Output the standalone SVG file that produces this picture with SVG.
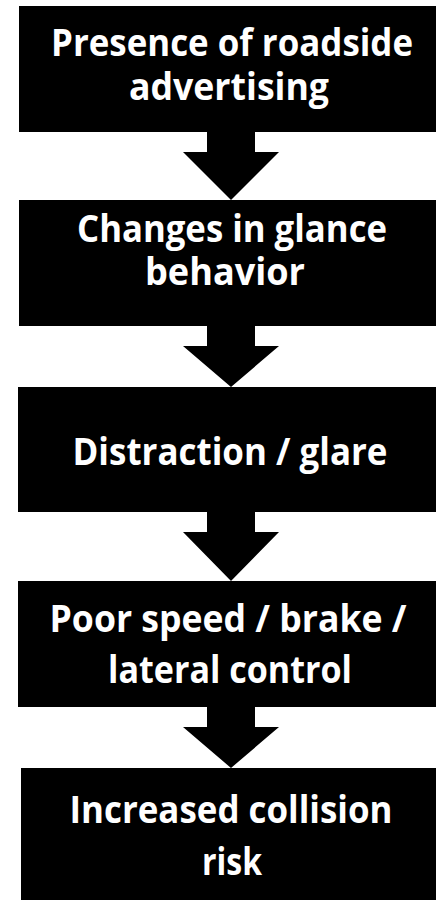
<svg xmlns="http://www.w3.org/2000/svg" width="436" height="900" viewBox="0 0 436 900">
  <style>
    .box { fill: #000000; }
    .lbl { fill: #ffffff; font-family: "Open Sans", "Noto Sans", "Liberation Sans", sans-serif; font-weight: 700; font-size: 38px; text-anchor: middle; }
    .arrow { fill: #000000; }
  </style>
  <rect x="0" y="0" width="436" height="900" fill="#ffffff"/>

  <!-- block arrows between steps -->
  <g id="connectors">
    <polygon class="arrow" points="207,131 255,131 255,152 279,152 231,200 183,152 207,152"/>
    <polygon class="arrow" points="207,325 255,325 255,346 279,346 231,387 183,346 207,346"/>
    <polygon class="arrow" points="207,511 255,511 255,532 279,532 231,581 183,532 207,532"/>
    <polygon class="arrow" points="207,706 255,706 255,727 279,727 231,768 183,727 207,727"/>
  </g>

  <g id="step1">
    <rect class="box" x="19" y="6" width="430" height="126"/>
    <text class="lbl" x="232" y="56" textLength="362" lengthAdjust="spacingAndGlyphs">Presence of roadside</text>
    <text class="lbl" x="229" y="100" textLength="200" lengthAdjust="spacingAndGlyphs">advertising</text>
  </g>

  <g id="step2">
    <rect class="box" x="19" y="200" width="430" height="126"/>
    <text class="lbl" x="232" y="242" textLength="310" lengthAdjust="spacingAndGlyphs">Changes in glance</text>
    <text class="lbl" x="225" y="285" textLength="160" lengthAdjust="spacingAndGlyphs">behavior</text>
  </g>

  <g id="step3">
    <rect class="box" x="18" y="387" width="430" height="125"/>
    <text class="lbl" x="230" y="465" textLength="315" lengthAdjust="spacingAndGlyphs">Distraction / glare</text>
  </g>

  <g id="step4">
    <rect class="box" x="18" y="581" width="430" height="126"/>
    <text class="lbl" x="228" y="632" textLength="357" lengthAdjust="spacingAndGlyphs">Poor speed / brake /</text>
    <text class="lbl" x="230" y="683" textLength="244" lengthAdjust="spacingAndGlyphs">lateral control</text>
  </g>

  <g id="step5">
    <rect class="box" x="21" y="768" width="430" height="140"/>
    <text class="lbl" x="231" y="823" textLength="323" lengthAdjust="spacingAndGlyphs">Increased collision</text>
    <text class="lbl" x="232" y="875" textLength="60" lengthAdjust="spacingAndGlyphs">risk</text>
  </g>
</svg>
